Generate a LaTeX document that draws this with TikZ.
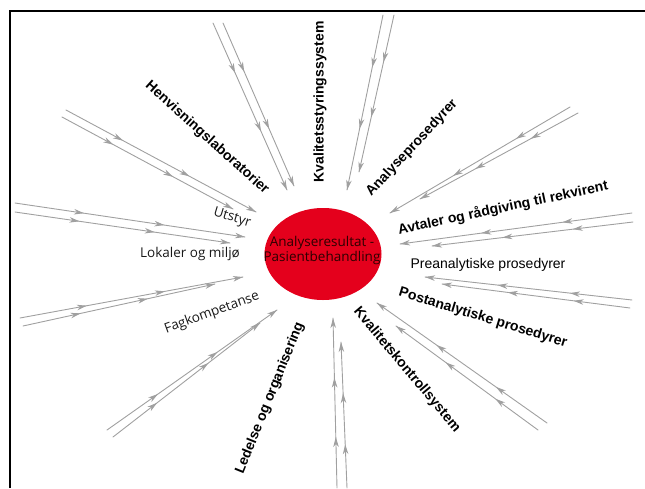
\documentclass[tikz,border=0pt]{standalone}
\usepackage{fontspec}
\setmainfont{Liberation Sans}
\newfontfamily\softsans{Open Sans}
\usepackage{tkz-euclide}
\usetikzlibrary{arrows.meta,decorations.markings,shapes.geometric}
\definecolor{flowgray}{RGB}{160,160,160}
\definecolor{hubred}{RGB}{228,0,28}
\definecolor{hubtext}{RGB}{45,0,0}
\tikzset{
  flowtip/.tip={Stealth[length=10pt,width=5.5pt,inset=3pt]},
  flow/.style={flowgray,line width=0.9pt,postaction={decorate},
    decoration={markings,
      mark=at position 0.3 with {\arrow{flowtip}},
      mark=at position 0.65 with {\arrow{flowtip}},
      mark=at position 1 with {\arrow{flowtip}}}},
  bigtag/.style={font=\fontsize{14}{16}\selectfont\bfseries,inner sep=0pt},
  plaintag/.style={font=\fontsize{14}{16}\selectfont,inner sep=0pt},
  softtag/.style={font=\softsans\fontsize{13.5}{15}\selectfont,text=black!90,inner sep=0pt},
  hub/.style={ellipse,fill=hubred,minimum width=117pt,minimum height=92pt,inner sep=0pt},
  hubtag/.style={align=center,text=hubtext,inner sep=0pt,font=\softsans\fontsize{13.5}{15}\selectfont}
}

\begin{document}
\begin{tikzpicture}[x=1pt,y=-1pt]
    \useasboundingbox (0,0) rectangle (645,488);
    % frame
    \draw[line width=2.5pt] (10,488) -- (10,11) -- (645,11);

    % outer and inner ends of the arrow pairs
    \tkzDefPoints{213/23/O1, 223/23/O2, 383/15/O3, 394/15/O4, 570/107/O5, 578/113/O6,
      632/213/O7, 633/222/O8, 632/300/O9, 630/308/O10, 547/423/O11, 538/430/O12,
      337/488/O13, 347/488/O14, 107/430/O15, 113/437/O16, 20/318/O17, 23/326/O18,
      15/203/O19, 15/212/O20, 66/110/O21, 62/117/O22}
    \tkzDefPoints{287/190/I1, 294/186/I2, 347/190/I3, 359/172/I4, 390/213/I5, 420/199/I6,
      400/244/I7, 432/246/I8, 425/277/I9, 442/284/I10, 377/303/I11, 396/326/I12,
      333/318/I13, 341/342/I14, 277/310/I15, 260/323/I16, 243/277/I17, 215/284/I18,
      245/237/I19, 230/243/I20, 256/212/I21, 233/209/I22}

    \tkzDrawSegments[flow](O1,I1 O2,I2 O3,I3 O4,I4 O5,I5 O6,I6 O7,I7 O8,I8 O9,I9 O10,I10 O11,I11)
    \tkzDrawSegments[flow](O12,I12 O13,I13 O14,I14 O15,I15 O16,I16 O17,I17 O18,I18 O19,I19 O20,I20 O21,I21 O22,I22)

    \node[hub] (core) at (323,254) {};
    \node[hubtag] (coretag) at (322,250) {Analyseresultat -\\Pasientbehandling};

    % labels round the core
    \node[bigtag,rotate=90] (kstyr) at (320,102) {Kvalitetsstyringssystem};
    \node[bigtag,rotate=-42] (henv) at (207,138) {Henvisningslaboratorier};
    \node[bigtag,rotate=47] (apros) at (412,148) {Analyseprosedyrer};
    \node[bigtag,rotate=12] (avt) at (503,208) {Avtaler og rådgiving til rekvirent};
    \node[plaintag] (pre) at (488,265) {Preanalytiske prosedyrer};
    \node[bigtag,rotate=-17] (post) at (483,318) {Postanalytiske prosedyrer};
    \node[bigtag,rotate=-50] (kkon) at (407,370) {Kvalitetskontrollsystem};
    \node[bigtag,rotate=68] (led) at (270,398) {Ledelse og organisering};
    \node[softtag,rotate=20] (fag) at (212,313) {Fagkompetanse};
    \node[softtag] (lok) at (190,254) {Lokaler og miljø};
    \node[softtag,rotate=-17] (utst) at (232,218) {Utstyr};
\end{tikzpicture}
\end{document}
